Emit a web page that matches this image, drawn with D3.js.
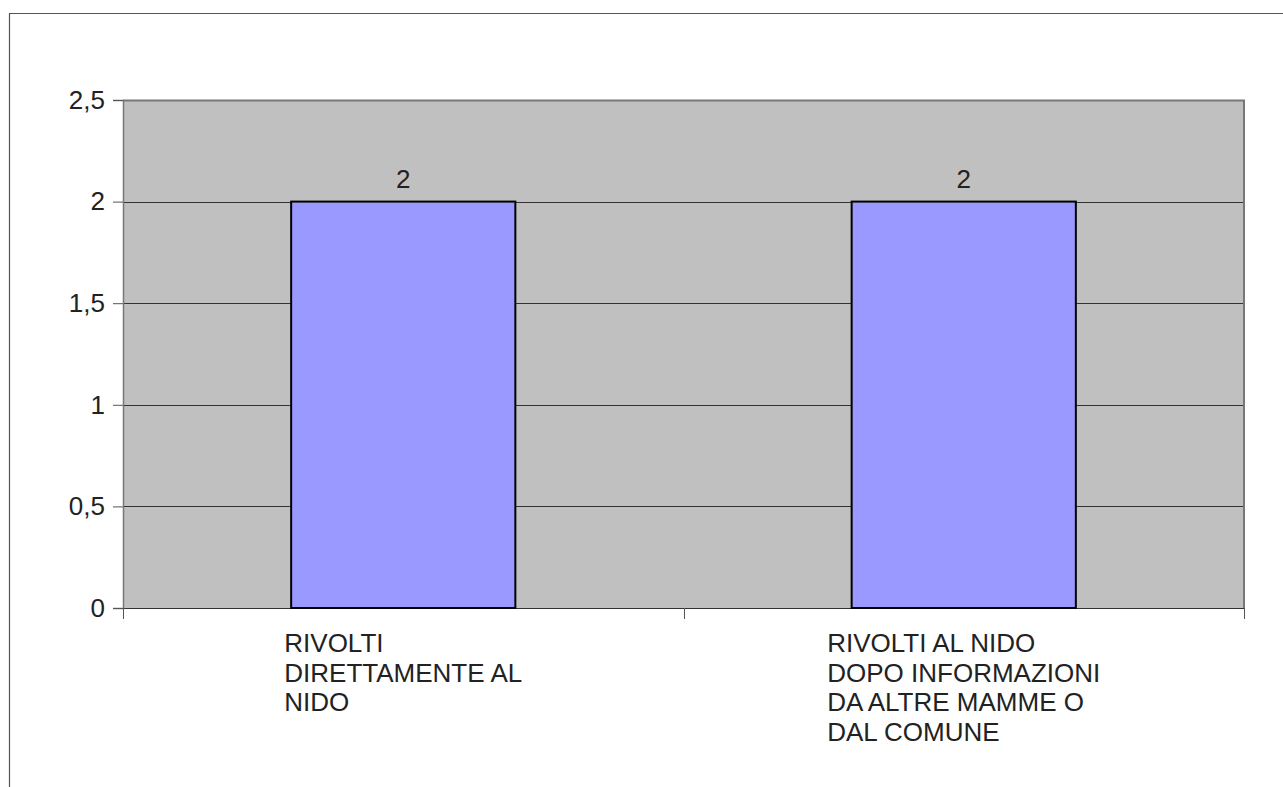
<!DOCTYPE html>
<html>
<head>
<meta charset="utf-8">
<script src="https://cdn.jsdelivr.net/npm/d3@7"></script>
<style>
  body { margin: 0; background: #fff; }
  svg { display: block; }
  text { font-family: "Liberation Sans", Arial, sans-serif; fill: #222; }
</style>
</head>
<body>
<svg id="chart" width="1283" height="787"></svg>
<script>
// Data
var categories = [
    ["RIVOLTI", "DIRETTAMENTE AL", "NIDO"],
    ["RIVOLTI AL NIDO", "DOPO INFORMAZIONI", "DA ALTRE MAMME O", "DAL COMUNE"]
];
var values = [2, 2];
var yTicks = [0, 0.5, 1, 1.5, 2, 2.5];

var svg = d3.select("#chart"),
    width = +svg.attr("width"),
    height = +svg.attr("height");

var margin = {left: 123, right: 39, top: 100, bottom: 179};
var plotW = width - margin.left - margin.right,
    plotH = height - margin.top - margin.bottom;
var fontSize = 26;

// Outer frame (left and top only visible)
svg.append("path")
    .attr("d", "M9.5," + height + "V13.5H" + width)
    .attr("fill", "none")
    .attr("stroke", "#555")
    .attr("stroke-width", 1.2);

var x = d3.scaleBand()
    .domain(d3.range(values.length))
    .range([margin.left, margin.left + plotW])
    .paddingInner(0.6)
    .paddingOuter(0.3);

var y = d3.scaleLinear()
    .domain([0, 2.5])
    .range([margin.top + plotH, margin.top]);

// Plot area background
svg.append("rect")
    .attr("x", margin.left)
    .attr("y", margin.top)
    .attr("width", plotW)
    .attr("height", plotH)
    .attr("fill", "#c0c0c0");

// Grid lines
svg.selectAll(".grid")
    .data(yTicks)
    .enter()
    .append("line")
    .attr("class", "grid")
    .attr("x1", margin.left)
    .attr("x2", margin.left + plotW)
    .attr("y1", function (d) { return Math.round(y(d)) + 0.5; })
    .attr("y2", function (d) { return Math.round(y(d)) + 0.5; })
    .attr("stroke", "#333")
    .attr("stroke-width", 1);

// Plot border: right and top darker
svg.append("path")
    .attr("d", "M" + margin.left + "," + (margin.top + 0.5) + "H" + (margin.left + plotW) + "V" + (margin.top + plotH))
    .attr("fill", "none")
    .attr("stroke", "#777")
    .attr("stroke-width", 2);

// Bars
svg.selectAll(".bar")
    .data(values)
    .enter()
    .append("rect")
    .attr("class", "bar")
    .attr("x", function (d, i) { return x(i); })
    .attr("y", function (d) { return y(d); })
    .attr("width", x.bandwidth())
    .attr("height", function (d) { return y(0) - y(d); })
    .attr("fill", "#9999ff")
    .attr("stroke", "#000")
    .attr("stroke-width", 2);

// Value labels
svg.selectAll(".val")
    .data(values)
    .enter()
    .append("text")
    .attr("class", "val")
    .attr("x", function (d, i) { return x(i) + x.bandwidth() / 2; })
    .attr("y", function (d) { return y(d) - 14; })
    .attr("text-anchor", "middle")
    .attr("font-size", fontSize)
    .text(function (d) { return d; });

// Y axis
var yAxis = d3.axisLeft(y)
    .tickValues(yTicks)
    .tickSize(10)
    .tickPadding(8)
    .tickFormat(function (d) { return String(d).replace(".", ","); });

var gy = svg.append("g")
    .attr("transform", "translate(" + margin.left + ",0)")
    .call(yAxis);
gy.select(".domain").attr("stroke", "#777").attr("stroke-width", 1.5);
gy.selectAll(".tick line").attr("stroke", "#555");
gy.selectAll(".tick text")
    .attr("font-size", fontSize)
    .attr("fill", "#222")
    .attr("font-family", "Liberation Sans, Arial, sans-serif");

// X axis category separators
var bounds = d3.range(values.length + 1).map(function (i) { return margin.left + i * plotW / values.length; });
svg.selectAll(".xtick")
    .data(bounds)
    .enter()
    .append("line")
    .attr("class", "xtick")
    .attr("x1", function (d) { return Math.round(d) + 0.5; })
    .attr("x2", function (d) { return Math.round(d) + 0.5; })
    .attr("y1", margin.top + plotH)
    .attr("y2", margin.top + plotH + 11)
    .attr("stroke", "#555");

// Category labels: block centred under the category, lines left-aligned
var cats = svg.selectAll(".cat")
    .data(categories)
    .enter()
    .append("text")
    .attr("class", "cat")
    .attr("y", margin.top + plotH + 44)
    .attr("font-size", fontSize);

cats.selectAll("tspan")
    .data(function (d) { return d; })
    .enter()
    .append("tspan")
    .attr("dy", function (d, i) { return i === 0 ? 0 : 29.5; })
    .text(function (d) { return d; });

cats.each(function (d, i) {
    var t = d3.select(this);
    var w = d3.max(t.selectAll("tspan").nodes(), function (n) { return n.getComputedTextLength(); });
    var cx = (bounds[i] + bounds[i + 1]) / 2;
    t.selectAll("tspan").attr("x", cx - w / 2);
});
</script>
</body>
</html>
